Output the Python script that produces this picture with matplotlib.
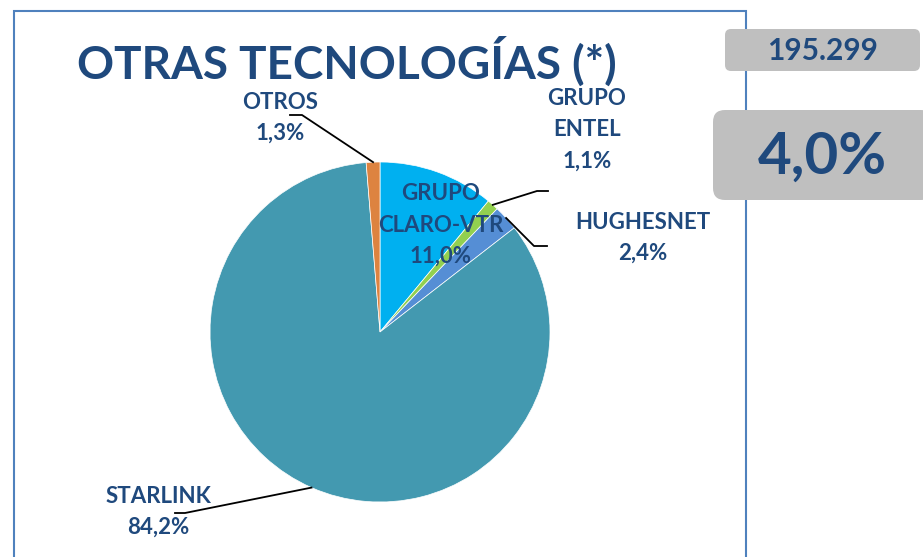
import matplotlib.pyplot as plt
from matplotlib.patches import FancyBboxPatch, Rectangle
import numpy as np

# data
labels = ["GRUPO\nCLARO-VTR", "GRUPO\nENTEL", "HUGHESNET", "STARLINK", "OTROS"]
shares = [11.0, 1.1, 2.4, 84.2, 1.3]
colors = ["#00B0F0", "#92D050", "#558ED5", "#4399B0", "#DD8340"]
title = "OTRAS TECNOLOGÍAS (*)"
total_lines = "195.299"
total_share = "4,0%"

W, H = 923, 557
NAVY = "#1F497D"
plt.rcParams['font.family'] = ['Lato', 'DejaVu Sans']

fig = plt.figure(figsize=(W / 100, H / 100), dpi=100)
ax = fig.add_axes([0, 0, 1, 1])


def py(y):
    # pixel row -> data y
    return H - y


# frame of the chart
ax.add_patch(Rectangle((14, py(600)), 731.5, 589, fill=False,
                       edgecolor="#4F81BD", lw=1.5, zorder=1))

cx, cy, r = 380, py(332), 170
wedges, _ = ax.pie(shares, colors=colors, startangle=90, counterclock=False,
                   center=(cx, cy), radius=r, frame=True,
                   wedgeprops=dict(linewidth=0.5, edgecolor="white"))
ax.set_xlim(0, W)
ax.set_ylim(0, H)
ax.set_aspect('equal')
ax.axis('off')

# label positions (pixel coords) and leader elbows
label_pos = [(441, 225), (587, 130), (643, 238), (158, 512), (280, 118)]
elbows = [None, [(537, 191), (548, 191)], [(534, 246), (547, 246)],
          [(185, 513), (175, 513)], [(302, 115), (290, 115)]]

for w, lab, val, pos, elb in zip(wedges, labels, shares, label_pos, elbows):
    txt = "%s\n%s%%" % (lab, ("%.1f" % val).replace(".", ","))
    ax.text(pos[0], py(pos[1]), txt, ha='center', va='center',
            fontsize=16, fontweight='bold', color=NAVY,
            linespacing=1.6, zorder=5)
    if elb is not None:
        ang = np.deg2rad((w.theta1 + w.theta2) / 2)
        x0 = cx + r * np.cos(ang)
        y0 = cy + r * np.sin(ang)
        xs = [x0] + [p[0] for p in elb]
        ys = [y0] + [py(p[1]) for p in elb]
        ax.plot(xs, ys, color="black", lw=1.3, zorder=4)

ax.text(347, py(62), title, ha='center', va='center', fontsize=33,
        fontweight='bold', color=NAVY)

# right side boxes
ax.add_patch(FancyBboxPatch((725, py(71)), 195, 42,
                            boxstyle="round,pad=0,rounding_size=6",
                            facecolor="#BFBFBF", edgecolor="none", zorder=3))
ax.text(822, py(51), total_lines, ha='center', va='center', fontsize=21.5,
        fontweight='bold', color=NAVY, zorder=5)
ax.add_patch(FancyBboxPatch((713, py(200)), 220, 90,
                            boxstyle="round,pad=0,rounding_size=12",
                            facecolor="#BFBFBF", edgecolor="none", zorder=3))
ax.text(822, py(157), total_share, ha='center', va='center', fontsize=42,
        fontweight='bold', color=NAVY, zorder=5)

fig.savefig("out.png", dpi=100)
